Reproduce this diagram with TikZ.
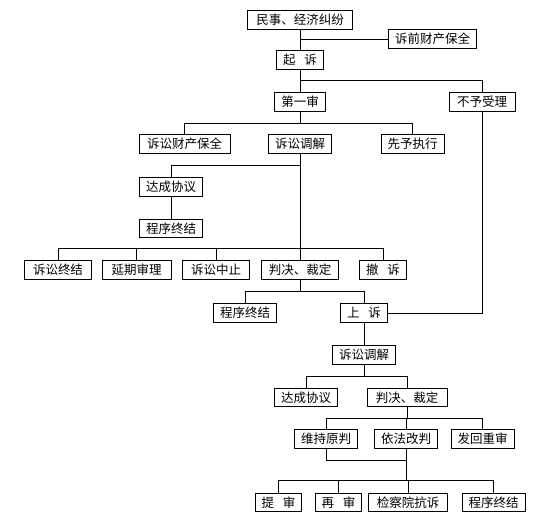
\documentclass[tikz,border=0pt]{standalone}
\usepackage{fontspec}
\setmainfont{Noto Sans CJK SC}
\begin{document}
\begin{tikzpicture}[x=1pt,y=-1pt,line width=0.8pt,
    box/.style={rectangle,draw,inner xsep=6.5pt,inner ysep=0pt,minimum height=18.5pt,
      font=\fontsize{12.5}{13}\selectfont}]
      \useasboundingbox (0,0) rectangle (544,528);
      \node[box,minimum width=105pt] (dispute) at (300,20) {民事、经济纠纷};
      \node[box,minimum width=85pt] (prepres) at (432.5,39) {诉前财产保全};
      \node[box] (sue) at (300,60) {起\hspace{0.7em}诉};
      \node[box] (first) at (300,102) {第一审};
      \node[box,minimum width=66pt] (reject) at (482,102) {不予受理};
      \node[box,minimum width=91pt] (preserve) at (184.5,144) {诉讼财产保全};
      \node[box] (mediate) at (300,144) {诉讼调解};
      \node[box] (advance) at (412.5,144) {先予执行};
      \node[box] (agree) at (171,187) {达成协议};
      \node[box] (endA) at (171,228.5) {程序终结};
      \node[box,minimum width=67.5pt] (endB) at (58,270) {诉讼终结};
      \node[box,minimum width=69pt] (delay) at (136.5,270) {延期审理};
      \node[box,minimum width=67.5pt] (suspend) at (216,270) {诉讼中止};
      \node[box,minimum width=76.5pt] (judge) at (300,270) {判决、裁定};
      \node[box] (withdraw) at (383,270) {撤\hspace{0.7em}诉};
      \node[box] (endC) at (245,313) {程序终结};
      \node[box] (appeal) at (364,313) {上\hspace{0.7em}诉};
      \node[box] (mediateB) at (364,355) {诉讼调解};
      \node[box] (agreeB) at (306,397.5) {达成协议};
      \node[box,minimum width=80pt] (judgeB) at (407,397.5) {判决、裁定};
      \node[box] (uphold) at (326,439) {维持原判};
      \node[box] (amend) at (406,439) {依法改判};
      \node[box,minimum width=60.5pt] (remand) at (482.5,439) {发回重审};
      \node[box] (retrialA) at (278.5,502.5) {提\hspace{0.7em}审};
      \node[box] (retrialB) at (338.5,502.5) {再\hspace{0.7em}审};
      \node[box,minimum width=79pt] (protest) at (408,502.5) {检察院抗诉};
      \node[box] (endD) at (493.5,502.5) {程序终结};
      % bus lines
      \coordinate (busA) at (0,80.7);
      \coordinate (busB) at (0,123.3);
      \coordinate (busC) at (0,165.7);
      \coordinate (busD) at (0,248.3);
      \coordinate (busE) at (0,291);
      \coordinate (busF) at (0,376.7);
      \coordinate (busG) at (0,418.3);
      \coordinate (busH) at (0,460);
      \coordinate (busI) at (0,480);
      \draw (dispute) -- (sue);
      \draw (prepres.west) -- (prepres.west -| dispute);
      \draw (sue) -- (first);
      \draw (sue |- busA) -| (reject.north);
      \draw (reject.south) |- (appeal.east);
      \draw (first) -- (first |- busB);
      \draw (preserve.north) |- (advance |- busB) -- (advance.north);
      \draw (mediate.south) -- (mediate |- busD);
      \draw (agree.north) |- (mediate |- busC);
      \draw (agree) -- (endA);
      \draw (endB.north) |- (withdraw |- busD) -- (withdraw.north);
      \draw (delay.north) -- (delay |- busD);
      \draw (suspend.north) -- (suspend |- busD);
      \draw (judge.north) -- (judge |- busD);
      \draw (judge.south) -- (judge |- busE);
      \draw (endC.north) |- (appeal |- busE) -- (appeal.north);
      \draw (appeal) -- (mediateB);
      \draw (mediateB.south) -- (mediateB |- busF);
      \draw (agreeB.north) |- (judgeB |- busF) -- (judgeB.north);
      \draw (judgeB.south) -- (judgeB |- busG);
      \draw (uphold.north) |- (remand |- busG) -- (remand.north);
      \draw (amend.north) -- (amend |- busG);
      \draw (uphold.south) |- (amend |- busH);
      \draw (amend.south) -- (amend |- busI);
      \draw (retrialA.north) |- (endD |- busI) -- (endD.north);
      \draw (retrialB.north) -- (retrialB |- busI);
      \draw (protest.north) -- (protest |- busI);
\end{tikzpicture}
\end{document}
